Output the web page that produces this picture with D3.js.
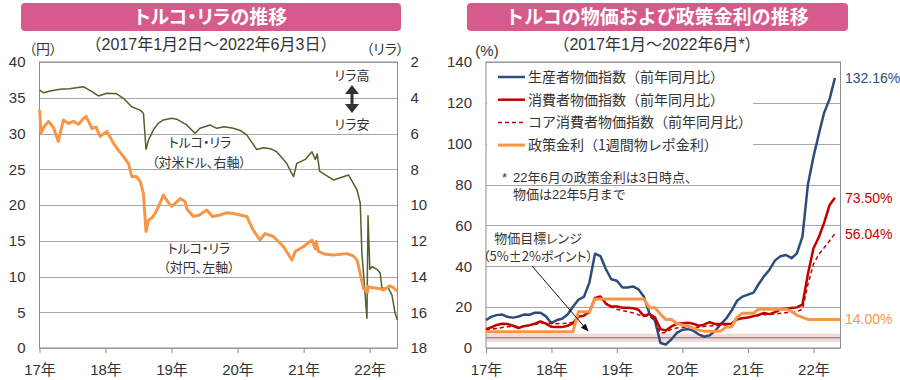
<!DOCTYPE html>
<html>
<head>
<meta charset="utf-8">
<script src="https://cdn.jsdelivr.net/npm/d3@7"></script>
<style>
  body { margin: 0; background: #fff; }
  svg { display: block; font-family: "Liberation Sans", "Noto Sans CJK JP", sans-serif; }
  .palt { font-feature-settings: "palt"; }
</style>
</head>
<body>
<svg id="chart" width="900" height="380"></svg>
<script>
// ---- data : left chart (daily series) ----
const yenTicks = [0, 5, 10, 15, 20, 25, 30, 35, 40];
const liraTicks = [2, 4, 6, 8, 10, 12, 14, 16, 18];
const yearDates = ["2017-01-01", "2018-01-01", "2019-01-01", "2020-01-01", "2021-01-01", "2022-01-01"];
const yearLabels = ["17年", "18年", "19年", "20年", "21年", "22年"];

// TRY/JPY (left axis)
const tryJpy = [
  ["2017-01-02", 33.3], ["2017-01-09", 30.0], ["2017-01-25", 30.9], ["2017-02-20", 31.7],
  ["2017-03-20", 30.8], ["2017-04-15", 28.9], ["2017-05-13", 31.9], ["2017-06-10", 31.4],
  ["2017-07-07", 31.7], ["2017-08-05", 31.3], ["2017-09-01", 32.1], ["2017-09-16", 32.4],
  ["2017-10-18", 30.7], ["2017-11-10", 30.9], ["2017-12-02", 29.6], ["2018-01-09", 30.3],
  ["2018-02-15", 28.6], ["2018-03-15", 27.6], ["2018-04-10", 26.8], ["2018-05-08", 25.8],
  ["2018-05-27", 24.0], ["2018-06-20", 24.0], ["2018-07-12", 23.3], ["2018-07-30", 21.6],
  ["2018-08-13", 16.3], ["2018-08-27", 17.9], ["2018-09-15", 18.2], ["2018-10-02", 18.8],
  ["2018-10-25", 20.0], ["2018-11-17", 21.4], ["2018-12-10", 20.5], ["2019-01-03", 19.8],
  ["2019-02-18", 20.9], ["2019-03-17", 20.5], ["2019-03-28", 19.4], ["2019-05-02", 18.4],
  ["2019-06-05", 18.6], ["2019-07-15", 19.3], ["2019-08-15", 18.4], ["2019-09-27", 18.6],
  ["2019-11-01", 18.9], ["2019-12-10", 18.8], ["2020-01-15", 18.6], ["2020-02-21", 18.4],
  ["2020-03-28", 16.5], ["2020-05-04", 15.1], ["2020-06-01", 16.0], ["2020-07-17", 15.6],
  ["2020-09-11", 14.2], ["2020-10-28", 12.3], ["2020-11-15", 13.5], ["2021-01-01", 14.2],
  ["2021-02-16", 15.1], ["2021-03-06", 13.9], ["2021-03-12", 14.9], ["2021-03-23", 13.5],
  ["2021-05-01", 13.1], ["2021-06-15", 13.0], ["2021-08-28", 13.2], ["2021-10-01", 12.9],
  ["2021-10-23", 12.3], ["2021-11-10", 10.4], ["2021-11-28", 8.3], ["2021-12-20", 7.8],
  ["2021-12-23", 8.6], ["2022-01-01", 8.5], ["2022-02-28", 8.3], ["2022-03-18", 8.1],
  ["2022-04-23", 8.7], ["2022-05-15", 8.4], ["2022-06-03", 7.9]
];

// USD/TRY (right axis, inverted)
const usdTry = [
  ["2017-01-02", 3.57], ["2017-01-23", 3.72], ["2017-03-01", 3.62], ["2017-04-24", 3.53],
  ["2017-06-15", 3.50], ["2017-09-01", 3.38], ["2017-10-18", 3.66], ["2017-11-23", 3.90],
  ["2018-01-08", 3.75], ["2018-03-04", 3.78], ["2018-04-10", 4.03], ["2018-05-26", 4.50],
  ["2018-07-11", 4.69], ["2018-07-30", 4.87], ["2018-08-13", 6.88], ["2018-08-27", 6.36],
  ["2018-09-23", 5.80], ["2018-10-20", 5.43], ["2018-11-17", 5.24], ["2019-01-03", 5.15],
  ["2019-01-30", 5.20], ["2019-03-26", 5.52], ["2019-05-11", 5.99], ["2019-06-08", 5.71],
  ["2019-08-02", 5.52], ["2019-09-08", 5.71], ["2019-10-20", 5.62], ["2019-12-09", 5.71],
  ["2020-01-20", 5.85], ["2020-02-21", 6.08], ["2020-04-17", 6.90], ["2020-05-23", 6.80],
  ["2020-07-01", 6.85], ["2020-08-05", 7.02], ["2020-09-29", 7.67], ["2020-11-06", 8.42],
  ["2020-11-24", 7.67], ["2021-01-10", 7.45], ["2021-02-16", 7.02], ["2021-03-06", 7.45],
  ["2021-03-17", 7.15], ["2021-03-30", 8.10], ["2021-05-01", 8.32], ["2021-06-15", 8.60],
  ["2021-07-15", 8.50], ["2021-09-06", 8.32], ["2021-10-23", 9.16], ["2021-11-10", 9.90],
  ["2021-11-19", 12.7], ["2021-11-28", 13.8], ["2021-12-17", 16.34], ["2021-12-23", 10.6],
  ["2022-01-02", 13.6], ["2022-01-14", 13.45], ["2022-02-10", 13.6], ["2022-02-28", 13.8],
  ["2022-03-10", 14.66], ["2022-04-15", 14.66], ["2022-05-04", 15.03], ["2022-05-22", 16.06],
  ["2022-06-03", 16.43]
];

// ---- data : right chart (monthly, Jan 2017 onwards) ----
const priceTicks = [0, 20, 40, 60, 80, 100, 120, 140];
const ppi = [13.69, 15.36, 16.09, 16.37, 15.26, 14.87, 15.45, 16.34, 16.28, 17.28, 17.30, 15.47,
  12.14, 13.71, 14.28, 16.37, 20.16, 23.71, 25.00, 32.13, 46.15, 45.01, 38.54, 33.64,
  32.93, 29.59, 29.64, 30.12, 28.71, 25.04, 17.01, 13.45, 2.45, 1.70, 4.26, 7.36,
  8.84, 9.26, 8.50, 6.71, 5.53, 6.17, 8.33, 11.53, 14.33, 18.20, 23.11, 25.15,
  26.16, 27.09, 31.20, 35.17, 38.33, 42.89, 44.92, 45.52, 43.96, 46.31, 54.62, 79.89,
  93.53, 105.01, 114.97, 121.82, 132.16];
const cpi = [9.22, 10.13, 11.29, 11.87, 11.72, 10.90, 9.79, 10.68, 11.20, 11.90, 12.98, 11.92,
  10.35, 10.26, 10.23, 10.85, 12.15, 15.39, 15.85, 17.90, 24.52, 25.24, 21.62, 20.30,
  20.35, 19.67, 19.71, 19.50, 18.71, 15.72, 16.65, 15.01, 9.26, 8.55, 10.56, 11.84,
  12.15, 12.37, 11.86, 10.94, 11.39, 12.62, 11.76, 11.77, 11.75, 11.89, 14.03, 14.60,
  14.97, 15.61, 16.19, 17.14, 16.59, 17.53, 18.95, 19.25, 19.58, 19.89, 21.31, 36.08,
  48.69, 54.44, 61.14, 69.97, 73.50];
const coreCpi = [8.9, 9.2, 9.6, 10.0, 10.4, 10.6, 10.5, 10.6, 11.0, 11.6, 12.1, 12.3,
  12.1, 11.9, 12.0, 12.1, 12.6, 15.0, 15.6, 17.2, 24.1, 24.3, 22.0, 20.0,
  19.0, 18.3, 17.8, 17.2, 16.3, 15.6, 15.5, 13.5, 7.2, 7.6, 9.2, 9.8,
  10.0, 10.2, 10.1, 10.2, 10.5, 10.8, 11.0, 11.1, 11.3, 11.6, 13.8, 14.6,
  15.0, 15.4, 15.9, 16.3, 16.4, 16.7, 17.0, 17.3, 17.4, 17.8, 19.0, 31.0,
  41.0, 46.0, 49.0, 52.5, 56.04];
const policyRate = [8, 8, 8, 8, 8, 8, 8, 8, 8, 8, 8, 8,
  8, 8, 8, 8, 8, 17.75, 17.75, 17.75, 24, 24, 24, 24,
  24, 24, 24, 24, 24, 24, 19.75, 19.75, 16.5, 14, 14, 12,
  11.25, 10.75, 9.75, 8.75, 8.25, 8.25, 8.25, 8.25, 10.25, 10.25, 15, 17,
  17, 17, 19, 19, 19, 19, 19, 19, 18, 16, 15, 14,
  14, 14, 14, 14, 14, 14];
const targetRange = [3, 7];
const targetMid = 5;

const legendItems = [
  { name: "生産者物価指数（前年同月比）", color: "#2c4d7c", dash: null, width: 2.5 },
  { name: "消費者物価指数（前年同月比）", color: "#c00000", dash: null, width: 2.5 },
  { name: "コア消費者物価指数（前年同月比）", color: "#c00000", dash: "4,3", width: 1.5 },
  { name: "政策金利（1週間物レポ金利）", color: "#f79646", dash: null, width: 3 }
];
const endLabels = [
  { text: "132.16%", value: 132.16, color: "#2c4d7c" },
  { text: "73.50%", value: 73.5, color: "#c00000" },
  { text: "56.04%", value: 56.04, color: "#c00000" },
  { text: "14.00%", value: 14.0, color: "#f79646" }
];

// ---- constants ----
const PINK = "#d65b8c";
const GRID = "#a6a6a6";
const BORDER = "#8c8c8c";
const TEXT = "#333";
const parse = d3.timeParse("%Y-%m-%d");

const svg = d3.select("#chart");

// title banners
function banner(x0, x1, title, sub, cx, tight) {
  svg.append("rect")
    .attr("x", x0).attr("y", 3).attr("width", x1 - x0).attr("height", 28)
    .attr("rx", 4).attr("fill", PINK);
  svg.append("text")
    .attr("x", cx).attr("y", 17).attr("dy", "0.36em")
    .attr("class", tight ? "palt" : null)
    .attr("text-anchor", "middle").attr("fill", "#fff")
    .attr("font-size", 19).attr("font-weight", "bold")
    .attr("font-family", "'Noto Sans CJK JP'")
    .text(title);
  svg.append("text")
    .attr("x", cx).attr("y", 44).attr("dy", "0.36em")
    .attr("text-anchor", "middle").attr("fill", TEXT)
    .attr("font-size", 16)
    .text(sub);
}
banner(21, 401, "トルコ・リラの推移", "（2017年1月2日～2022年6月3日）", 211, true);
banner(467, 848, "トルコの物価および政策金利の推移", "（2017年1月～2022年6月*）", 657, false);

// ================= left chart =================
const L = { left: 39.5, right: 397.5, top: 62, bottom: 348 };
const xL = d3.scaleTime().domain([parse("2017-01-01"), parse("2022-06-04")]).range([L.left, L.right]);
const yL = d3.scaleLinear().domain([0, 40]).range([L.bottom, L.top]);
const yR = d3.scaleLinear().domain([2, 18]).range([L.top, L.bottom]);

const gL = svg.append("g");

// gridlines
gL.append("g").selectAll("line").data(yenTicks).join("line")
  .attr("x1", L.left).attr("x2", L.right)
  .attr("y1", d => Math.round(yL(d)) + 0.5).attr("y2", d => Math.round(yL(d)) + 0.5)
  .attr("stroke", GRID).attr("stroke-width", 1);

gL.append("rect")
  .attr("x", L.left).attr("y", L.top).attr("width", L.right - L.left).attr("height", L.bottom - L.top)
  .attr("fill", "none").attr("stroke", BORDER);

// axes
function styleAxis(g) {
  g.select(".domain").remove();
  g.selectAll("text").attr("fill", TEXT).attr("font-size", 15)
    .attr("font-family", "'Liberation Sans', 'Noto Sans CJK JP'");
  g.selectAll("line").attr("stroke", BORDER);
}
gL.append("g").attr("transform", `translate(${L.left},0)`)
  .call(d3.axisLeft(yL).tickValues(yenTicks).tickSize(0).tickPadding(14))
  .call(styleAxis);
gL.append("g").attr("transform", `translate(${L.right},0)`)
  .call(d3.axisRight(yR).tickValues(liraTicks).tickSize(0).tickPadding(13))
  .call(styleAxis);
gL.append("g").attr("transform", `translate(0,${L.bottom})`)
  .call(d3.axisBottom(xL).tickValues(yearDates.map(parse)).tickFormat((d, i) => yearLabels[i])
    .tickSize(5).tickPadding(11))
  .call(styleAxis);

// lines
gL.append("path")
  .datum(usdTry)
  .attr("fill", "none").attr("stroke", "#4f6228").attr("stroke-width", 1.5)
  .attr("stroke-linejoin", "round")
  .attr("d", d3.line().x(d => xL(parse(d[0]))).y(d => yR(d[1])));
gL.append("path")
  .datum(tryJpy)
  .attr("fill", "none").attr("stroke", "#f79646").attr("stroke-width", 3)
  .attr("stroke-linejoin", "round")
  .attr("d", d3.line().x(d => xL(parse(d[0]))).y(d => yL(d[1])));

// unit labels
gL.append("text").attr("x", 43).attr("y", 49).attr("dy", "0.36em").attr("class", "palt")
  .attr("text-anchor", "middle").attr("font-size", 14).attr("fill", TEXT)
  .attr("font-family", "'Noto Sans CJK JP'").text("（円）");
gL.append("text").attr("x", 385).attr("y", 49).attr("dy", "0.36em").attr("class", "palt")
  .attr("text-anchor", "middle").attr("font-size", 14).attr("fill", TEXT)
  .attr("font-family", "'Noto Sans CJK JP'").text("（リラ）");

// annotations
function note(g, x, y, t, size) {
  g.append("text").attr("x", x).attr("y", y).attr("dy", "0.36em")
    .attr("class", "palt")
    .attr("text-anchor", "middle").attr("font-size", size || 13).attr("fill", TEXT)
    .attr("font-family", "'Noto Sans CJK JP'")
    .text(t);
}
note(gL, 352, 75, "リラ高");
note(gL, 352, 124, "リラ安");
note(gL, 200, 142, "トルコ・リラ");
note(gL, 199, 162, "（対米ドル、右軸）");
note(gL, 199, 248, "トルコ・リラ");
note(gL, 199, 267, "（対円、左軸）");

// double arrow
gL.append("path")
  .attr("d", "M352,85 L359,94 L353.5,94 L353.5,104 L359,104 L352,113 L345,104 L350.5,104 L350.5,94 L345,94 Z")
  .attr("fill", "#333");

// ================= right chart =================
const R = { left: 486, right: 840.5, top: 62, bottom: 348 };
const months = d3.timeMonth.range(parse("2017-01-01"), parse("2022-07-01"));
const xP = d3.scaleTime().domain([parse("2017-01-01"), parse("2022-06-01")]).range([R.left, R.right]);
const yP = d3.scaleLinear().domain([0, 140]).range([R.bottom, R.top]);

const gR = svg.append("g");

gR.append("g").selectAll("line").data(priceTicks).join("line")
  .attr("x1", R.left).attr("x2", R.right)
  .attr("y1", d => Math.round(yP(d)) + 0.5).attr("y2", d => Math.round(yP(d)) + 0.5)
  .attr("stroke", GRID);

// target range band
gR.append("rect")
  .attr("x", R.left).attr("width", R.right - R.left)
  .attr("y", yP(targetRange[1])).attr("height", yP(targetRange[0]) - yP(targetRange[1]))
  .attr("fill", "#f2d9da");
gR.append("line")
  .attr("x1", R.left).attr("x2", R.right)
  .attr("y1", yP(targetMid)).attr("y2", yP(targetMid))
  .attr("stroke", "#7a6b6b").attr("stroke-width", 1);

gR.append("rect")
  .attr("x", R.left).attr("y", R.top).attr("width", R.right - R.left).attr("height", R.bottom - R.top)
  .attr("fill", "none").attr("stroke", BORDER);

gR.append("g").attr("transform", `translate(${R.left},0)`)
  .call(d3.axisLeft(yP).tickValues(priceTicks).tickSize(0).tickPadding(14))
  .call(styleAxis);
gR.append("g").attr("transform", `translate(0,${R.bottom})`)
  .call(d3.axisBottom(xP).tickValues(yearDates.map(parse)).tickFormat((d, i) => yearLabels[i])
    .tickSize(5).tickPadding(11))
  .call(styleAxis);

const monthLine = d3.line().x((d, i) => xP(months[i])).y(d => yP(d));
const seriesList = [ppi, cpi, coreCpi, policyRate];
seriesList.forEach((s, k) => {
  const it = legendItems[k];
  gR.append("path")
    .datum(s)
    .attr("fill", "none").attr("stroke", it.color).attr("stroke-width", it.width)
    .attr("stroke-dasharray", it.dash)
    .attr("stroke-linejoin", "round")
    .attr("d", monthLine);
});

// legend
const legend = gR.append("g");
legend.append("rect").attr("x", R.left + 1).attr("y", R.top + 1)
  .attr("width", 266).attr("height", 96).attr("fill", "#fff");
legendItems.forEach((it, i) => {
  const y = 77 + i * 22.7;
  legend.append("line").attr("x1", 498).attr("x2", 525).attr("y1", y).attr("y2", y)
    .attr("stroke", it.color).attr("stroke-width", it.width).attr("stroke-dasharray", it.dash);
  legend.append("text").attr("x", 528).attr("y", y).attr("dy", "0.36em")
    .attr("font-size", 14).attr("fill", TEXT)
    .attr("font-family", "'Noto Sans CJK JP'")
    .text(it.name);
});

// footnote
gR.append("text").attr("x", 502).attr("y", 177).attr("dy", "0.36em")
  .attr("font-size", 13).attr("fill", TEXT).text("*");
gR.append("text").attr("x", 513).attr("y", 177).attr("dy", "0.36em")
  .attr("font-size", 13).attr("fill", TEXT).text("22年6月の政策金利は3日時点、");
gR.append("text").attr("x", 513).attr("y", 194).attr("dy", "0.36em")
  .attr("font-size", 13).attr("fill", TEXT).text("物価は22年5月まで");

// end value labels
endLabels.forEach(d => {
  gR.append("text").attr("x", 845).attr("y", yP(d.value)).attr("dy", "0.36em")
    .attr("font-size", 14).attr("fill", d.color).text(d.text);
});

// unit
gR.append("text").attr("x", 487).attr("y", 51).attr("dy", "0.36em")
  .attr("text-anchor", "middle").attr("font-size", 15).attr("fill", TEXT).text("(%)");

// target range note + arrow
note(gR, 538, 238, "物価目標レンジ");
note(gR, 538, 256, "（5%±2%ポイント）");
svg.append("defs").append("marker")
  .attr("id", "ah").attr("viewBox", "0 0 10 10").attr("refX", 9).attr("refY", 5)
  .attr("markerWidth", 8).attr("markerHeight", 8).attr("orient", "auto")
  .append("path").attr("d", "M0,1 L10,5 L0,9 Z").attr("fill", "#111");
gR.append("line")
  .attr("x1", 532).attr("y1", 266).attr("x2", 588).attr("y2", 331)
  .attr("stroke", "#111").attr("stroke-width", 1).attr("marker-end", "url(#ah)");
</script>
</body>
</html>
